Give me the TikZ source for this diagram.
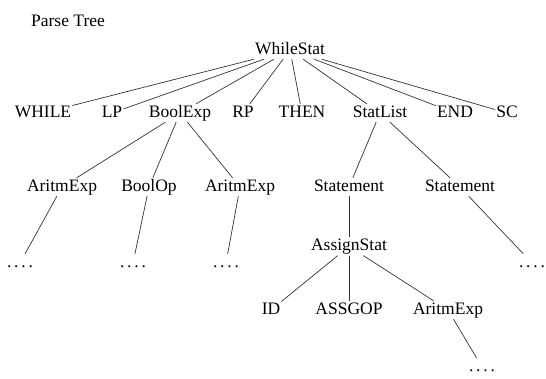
\documentclass[tikz,border=0pt]{standalone}
\usepackage{fontspec}
\setmainfont{Liberation Serif}
\usepackage{tikz}
\usetikzlibrary{positioning}
\newcommand{\leafdots}{.\kern2.8pt.\kern2.8pt.\kern2.8pt.}

\begin{document}
\begin{tikzpicture}[x=1pt, y=-1pt, font=\fontsize{17.5}{21}\selectfont,
        sym/.style={text height=12pt, text depth=4pt, inner sep=1pt},
        link/.style={draw=black!80, line width=0.7pt}]
        \useasboundingbox (0,0) rectangle (546,378);
        \node (title) [sym] at (68,22) {Parse Tree};

        \node (ws) [sym] at (290,50) {WhileStat};
        \node (while) [sym] at (43,113) {WHILE};
        \node (lp) [sym] at (112,113) {LP};
        \node (bexp) [sym] at (180,113) {BoolExp};
        \node (rp) [sym] at (243,113) {RP};
        \node (then) [sym] at (302,113) {THEN};
        \node (slist) [sym] at (380,113) {StatList};
        \node (endk) [sym] at (455,113) {END};
        \node (sc) [sym] at (507,113) {SC};

        \node (aexpa) [sym] at (62,187) {AritmExp};
        \node (bop) [sym] at (149,187) {BoolOp};
        \node (aexpb) [sym] at (240,187) {AritmExp};
        \node (stma) [sym] at (349,187) {Statement};
        \node (stmb) [sym] at (460,187) {Statement};

        \node (dta) [sym] at (20,263) {\leafdots};
        \node (dtb) [sym] at (133,263) {\leafdots};
        \node (dtc) [sym] at (226,263) {\leafdots};
        \node (dtd) [sym] at (532,263) {\leafdots};

        \node (asg) [sym, below=41pt of stma] {AssignStat};
        \node (id) [sym] at (271,310) {ID};
        \node (aop) [sym] at (349,310) {ASSGOP};
        \node (aexpc) [sym] at (448,310) {AritmExp};
        \node (dte) [sym] at (482,367) {\leafdots};

        \foreach \k in {while, lp, bexp, rp, then, slist, endk, sc}
            \draw[link] (ws) -- (\k);
        \draw[link] (bexp) -- (aexpa);
        \draw[link] (bexp) -- (bop);
        \draw[link] (bexp) -- (aexpb);
        \draw[link] (slist) -- (stma);
        \draw[link] (slist) -- (stmb);
        \draw[link] (aexpa) -- (dta);
        \draw[link] (bop) -- (dtb);
        \draw[link] (aexpb) -- (dtc);
        \draw[link] (stmb) -- (dtd);
        \draw[link] (stma) -- (asg);
        \draw[link] (asg) -- (id);
        \draw[link] (asg) -- (aop);
        \draw[link] (asg) -- (aexpc);
        \draw[link] (aexpc) -- (dte);
    \end{tikzpicture}
\end{document}
